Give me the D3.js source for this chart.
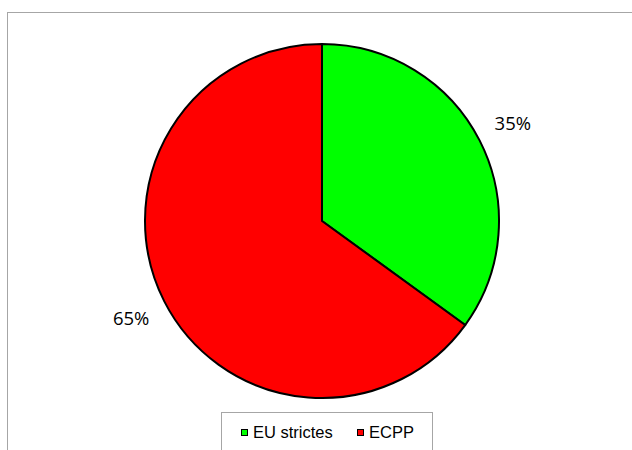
<!DOCTYPE html>
<html><head><meta charset="utf-8">
<script src="https://cdn.jsdelivr.net/npm/d3@7"></script>
<style>body{margin:0;background:#fff;}svg{display:block;}</style>
</head><body>
<svg id="c" width="632" height="450"></svg>
<script>
const categories = ["EU strictes", "ECPP"];
const values = [35, 65];
const labels = ["35%", "65%"];
const colors = ["#00ff00", "#ff0000"];

const svg = d3.select("#c");
// chart area border
svg.append("rect").attr("x", 7.5).attr("y", 12.5).attr("width", 700).attr("height", 500)
  .attr("fill", "none").attr("stroke", "#a6a6a6").attr("stroke-width", 1);

const cx = 322, cy = 221, r = 177;
const pie = d3.pie().sort(null).value(d => d)(values);
const arc = d3.arc().innerRadius(0).outerRadius(r);
const g = svg.append("g").attr("transform", `translate(${cx},${cy})`);
g.selectAll("path").data(pie).join("path")
  .attr("d", arc).attr("fill", (d, i) => colors[i])
  .attr("stroke", "#000").attr("stroke-width", 2).attr("stroke-linejoin", "round");

const labelArc = d3.arc().innerRadius(r * 1.21).outerRadius(r * 1.21);
g.selectAll("text").data(pie).join("text")
  .attr("transform", d => `translate(${labelArc.centroid(d)})`)
  .attr("text-anchor", "middle").attr("dy", "0.35em")
  .attr("font-family", "'Open Sans', sans-serif").attr("font-size", 18.5)
  .attr("fill", "#000")
  .text((d, i) => labels[i]);

// legend
const lg = svg.append("g");
lg.append("rect").attr("x", 221.5).attr("y", 412.5).attr("width", 211).attr("height", 60)
  .attr("fill", "#fff").attr("stroke", "#a6a6a6");
const lx = [241, 357];
categories.forEach((c, i) => {
  lg.append("rect").attr("x", lx[i] + 0.5).attr("y", 429.5).attr("width", 6).attr("height", 6)
    .attr("fill", colors[i]).attr("stroke", "#000").attr("stroke-width", 1);
  lg.append("text").attr("x", lx[i] + 12).attr("y", 438)
    .attr("font-family", "'Liberation Sans', Arial, sans-serif").attr("font-size", 16.5)
    .attr("fill", "#000").text(c);
});
</script>
</body></html>
